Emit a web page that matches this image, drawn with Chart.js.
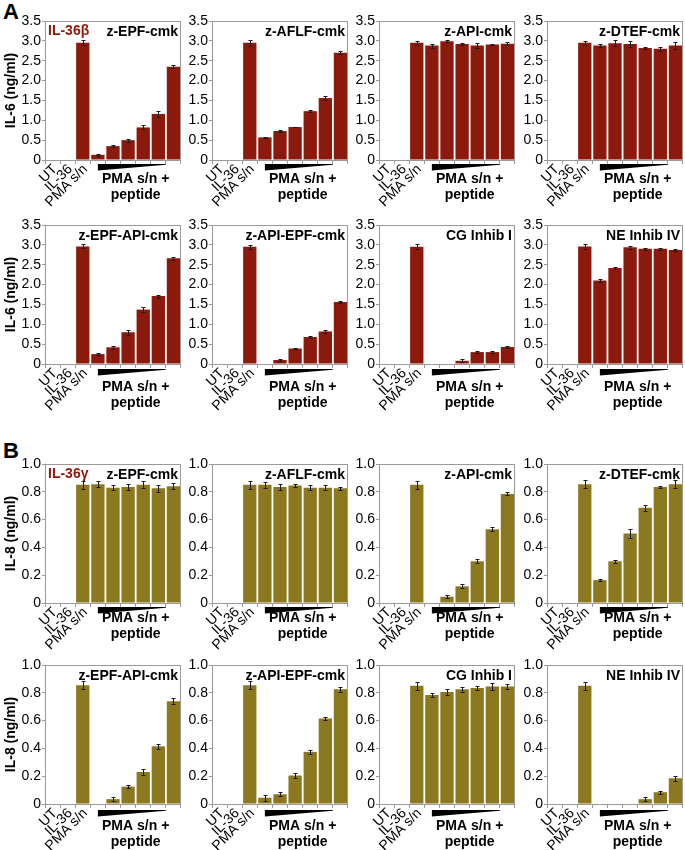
<!DOCTYPE html>
<html>
<head>
<meta charset="utf-8">
<script src="https://cdn.jsdelivr.net/npm/chart.js@4/dist/chart.umd.min.js"></script>
<style>
  body { margin: 0; background: #fff; }
  #fig { position: relative; width: 685px; height: 850px; overflow: hidden; }
  #fig canvas { position: absolute; }
  .panel-label { position: absolute; font: bold 22px "Liberation Sans", Arial, sans-serif; color: #000; }
</style>
</head>
<body>
<div id="fig">
  <div class="panel-label" style="left:3px;top:-1px">A</div>
  <div class="panel-label" style="left:3px;top:438px">B</div>
</div>
<script>
// categories: UT, IL-36, PMA s/n, then 6 decreasing peptide doses
const categories = ['UT', 'IL-36', 'PMA s/n', '', '', '', '', '', ''];
const il6Ticks = [0, 0.5, 1.0, 1.5, 2.0, 2.5, 3.0, 3.5];
const il8Ticks = [0, 0.2, 0.4, 0.6, 0.8, 1.0];

const titles = ['z-EPF-cmk', 'z-AFLF-cmk', 'z-API-cmk', 'z-DTEF-cmk',
                'z-EPF-API-cmk', 'z-API-EPF-cmk', 'CG Inhib I', 'NE Inhib IV'];

// A: IL-36beta, IL-6 (ng/ml)
const aEpf = [0, 0, 2.95, 0.13, 0.35, 0.50, 0.82, 1.16, 2.35];
const aEpfErr = [0, 0, 0.06, 0.02, 0.03, 0.04, 0.05, 0.08, 0.03];
const aAflf = [0, 0, 2.95, 0.57, 0.73, 0.83, 1.23, 1.56, 2.70];
const aAflfErr = [0, 0, 0.07, 0.01, 0.03, 0.01, 0.03, 0.04, 0.04];
const aApi = [0, 0, 2.95, 2.88, 2.99, 2.92, 2.88, 2.91, 2.93];
const aApiErr = [0, 0, 0.05, 0.05, 0.03, 0.03, 0.06, 0.02, 0.03];
const aDtef = [0, 0, 2.95, 2.88, 2.94, 2.92, 2.82, 2.80, 2.88];
const aDtefErr = [0, 0, 0.05, 0.03, 0.07, 0.08, 0.02, 0.05, 0.08];
const aEpfApi = [0, 0, 2.96, 0.25, 0.42, 0.80, 1.37, 1.71, 2.66];
const aEpfApiErr = [0, 0, 0.05, 0.03, 0.03, 0.06, 0.06, 0.04, 0.04];
const aApiEpf = [0, 0, 2.95, 0, 0.10, 0.39, 0.68, 0.82, 1.56];
const aApiEpfErr = [0, 0, 0.05, 0, 0.02, 0.02, 0.02, 0.03, 0.02];
const aCg = [0, 0, 2.95, 0, 0, 0.08, 0.30, 0.30, 0.43];
const aCgErr = [0, 0, 0.06, 0, 0, 0.04, 0.03, 0.03, 0.02];
const aNe = [0, 0, 2.96, 2.10, 2.42, 2.94, 2.90, 2.90, 2.87];
const aNeErr = [0, 0, 0.06, 0.03, 0.02, 0.04, 0.03, 0.03, 0.03];

// B: IL-36gamma, IL-8 (ng/ml)
const bEpf = [0, 0, 0.85, 0.855, 0.83, 0.835, 0.85, 0.825, 0.84];
const bEpfErr = [0, 0, 0.03, 0.02, 0.02, 0.02, 0.025, 0.025, 0.02];
const bAflf = [0, 0, 0.85, 0.85, 0.835, 0.845, 0.83, 0.83, 0.825];
const bAflfErr = [0, 0, 0.03, 0.02, 0.02, 0.01, 0.02, 0.02, 0.01];
const bApi = [0, 0, 0.85, 0, 0.045, 0.12, 0.30, 0.53, 0.785];
const bApiErr = [0, 0, 0.03, 0, 0.01, 0.015, 0.015, 0.015, 0.01];
const bDtef = [0, 0, 0.855, 0.165, 0.30, 0.50, 0.685, 0.835, 0.855];
const bDtefErr = [0, 0, 0.03, 0.01, 0.01, 0.03, 0.02, 0.01, 0.03];
const bEpfApi = [0, 0, 0.855, 0, 0.035, 0.125, 0.23, 0.415, 0.74];
const bEpfApiErr = [0, 0, 0.03, 0, 0.015, 0.01, 0.02, 0.02, 0.02];
const bApiEpf = [0, 0, 0.855, 0.045, 0.07, 0.205, 0.375, 0.615, 0.825];
const bApiEpfErr = [0, 0, 0.03, 0.02, 0.015, 0.02, 0.015, 0.01, 0.02];
const bCg = [0, 0, 0.85, 0.785, 0.805, 0.825, 0.835, 0.845, 0.845];
const bCgErr = [0, 0, 0.03, 0.015, 0.02, 0.02, 0.015, 0.025, 0.02];
const bNe = [0, 0, 0.85, 0, 0, 0, 0.035, 0.085, 0.185];
const bNeErr = [0, 0, 0.03, 0, 0, 0, 0.015, 0.01, 0.02];

const FONT = '"Liberation Sans", Arial, sans-serif';
const RED = '#8c1a0c';
const OLIVE = '#8b781f';
const FRAME = '#9a9a9a';

// plot-area placement (left edge of each column, top of each row)
const colX = [45, 212, 379, 547];
const rowY = [21, 225, 464, 665];
const rowText = [19, 23, 15, 22];   // "PMA s/n +" centre below axis
const rowWedge = [4, 5, 4, 6];
const PLOT_W = 136, PLOT_H = 139, PAD_TOP = 8, X_H = 46, Y_W = 45, PAD_BOT = 10;

const panelDecor = {
  id: 'panelDecor',
  afterDatasetsDraw(chart, args, o) {
    const { ctx, chartArea: a, scales: { x, y } } = chart;
    const ds = chart.data.datasets[0];
    const meta = chart.getDatasetMeta(0);
    ctx.save();

    // error bars
    ctx.strokeStyle = '#1a1a1a';
    ctx.lineWidth = 1;
    meta.data.forEach((bar, i) => {
      const e = ds.errors[i];
      if (!e) return;
      const v = ds.data[i];
      const cx = Math.round(bar.x) + 0.5;
      const y1 = Math.round(y.getPixelForValue(v + e)) + 0.5;
      const y2 = Math.round(y.getPixelForValue(v - e)) + 0.5;
      ctx.beginPath();
      ctx.moveTo(cx, y1); ctx.lineTo(cx, y2);
      ctx.moveTo(cx - 2, y1); ctx.lineTo(cx + 2, y1);
      ctx.moveTo(cx - 2, y2); ctx.lineTo(cx + 2, y2);
      ctx.stroke();
    });

    // frame
    ctx.strokeStyle = FRAME;
    ctx.strokeRect(Math.round(a.left) + 0.5, Math.round(a.top) + 0.5,
                   Math.round(a.width) - 1, Math.round(a.height));

    // rotated control labels
    ctx.fillStyle = '#000';
    ctx.font = '14px ' + FONT;
    ctx.textAlign = 'right';
    ctx.textBaseline = 'middle';
    chart.data.labels.forEach((lab, i) => {
      if (!lab) return;
      ctx.save();
      ctx.translate(x.getPixelForValue(i) + 2.5, a.bottom + 7);
      ctx.rotate(-Math.PI / 4);
      ctx.fillText(lab, 0, 0);
      ctx.restore();
    });

    // titles
    ctx.font = 'bold 14px ' + FONT;
    ctx.textBaseline = 'alphabetic';
    ctx.textAlign = 'right';
    ctx.fillText(o.title, a.right - 3, a.top + 15);
    if (o.species) {
      ctx.fillStyle = RED;
      ctx.textAlign = 'left';
      ctx.fillText(o.species, a.left + 3, a.top + 14);
    }

    // dose wedge + label
    const x1 = x.getPixelForValue(3);
    const x2 = (x.getPixelForValue(7) + x.getPixelForValue(8)) / 2;
    const wy = a.bottom + o.wedge;
    ctx.fillStyle = '#000';
    ctx.beginPath();
    ctx.moveTo(x1, wy);
    ctx.lineTo(x2, wy);
    ctx.lineTo(x2, wy + 0.8);
    ctx.lineTo(x1, wy + 6.5);
    ctx.closePath();
    ctx.fill();

    const tx = (x.getPixelForValue(3) + x.getPixelForValue(8)) / 2;
    ctx.textAlign = 'center';
    ctx.textBaseline = 'middle';
    ctx.fillText('PMA s/n +', tx, a.bottom + o.text);
    ctx.fillText('peptide', tx, a.bottom + o.text + 16);
    ctx.restore();
  }
};

function makePanel(col, row, values, errors, title, ticks, color, yTitle, species) {
  const canvas = document.createElement('canvas');
  canvas.width = Y_W + PLOT_W + 2;
  canvas.height = PAD_TOP + PLOT_H + X_H + PAD_BOT;
  canvas.style.left = (colX[col] - Y_W) + 'px';
  canvas.style.top = (rowY[row] - PAD_TOP) + 'px';
  document.getElementById('fig').appendChild(canvas);

  return new Chart(canvas.getContext('2d'), {
    type: 'bar',
    data: {
      labels: categories,
      datasets: [{
        data: values,
        errors: errors,
        backgroundColor: color,
        borderWidth: 0,
        barPercentage: 0.88,
        categoryPercentage: 1.0
      }]
    },
    options: {
      responsive: false,
      animation: false,
      events: [],
      layout: { padding: { top: PAD_TOP, right: 2, left: 0, bottom: PAD_BOT } },
      plugins: {
        legend: { display: false },
        tooltip: { enabled: false },
        panelDecor: {
          title: title, species: species,
          text: rowText[row], wedge: rowWedge[row]
        }
      },
      scales: {
        x: {
          grid: { display: true, drawOnChartArea: false, offset: true, tickLength: 4, color: FRAME },
          border: { display: false },
          ticks: { display: false },
          afterFit: s => { s.height = X_H; s.paddingLeft = 0; s.paddingRight = 0; }
        },
        y: {
          min: ticks[0],
          max: ticks[ticks.length - 1],
          afterBuildTicks: s => { s.ticks = ticks.map(v => ({ value: v })); },
          grid: { display: true, drawOnChartArea: false, tickLength: 3, color: FRAME },
          border: { display: false },
          ticks: {
            padding: 1, color: '#000', font: { family: FONT, size: 14 },
            callback: v => (v === 0 ? '0' : v.toFixed(1))
          },
          title: {
            display: !!yTitle, text: yTitle, color: '#000',
            font: { family: FONT, size: 14, weight: 'bold' },
            padding: { top: 3, bottom: 0 }
          },
          afterFit: s => { s.width = Y_W; s.paddingTop = 0; s.paddingBottom = 0; }
        }
      }
    },
    plugins: [panelDecor]
  });
}

const seriesA = [[aEpf, aEpfErr], [aAflf, aAflfErr], [aApi, aApiErr], [aDtef, aDtefErr],
                 [aEpfApi, aEpfApiErr], [aApiEpf, aApiEpfErr], [aCg, aCgErr], [aNe, aNeErr]];
const seriesB = [[bEpf, bEpfErr], [bAflf, bAflfErr], [bApi, bApiErr], [bDtef, bDtefErr],
                 [bEpfApi, bEpfApiErr], [bApiEpf, bApiEpfErr], [bCg, bCgErr], [bNe, bNeErr]];

seriesA.forEach(([vals, errs], i) => {
  const col = i % 4, row = Math.floor(i / 4);
  makePanel(col, row, vals, errs, titles[i], il6Ticks, RED,
            col === 0 ? 'IL-6 (ng/ml)' : '', i === 0 ? 'IL-36\u03b2' : '');
});
seriesB.forEach(([vals, errs], i) => {
  const col = i % 4, row = 2 + Math.floor(i / 4);
  makePanel(col, row, vals, errs, titles[i], il8Ticks, OLIVE,
            col === 0 ? 'IL-8 (ng/ml)' : '', i === 0 ? 'IL-36\u03b3' : '');
});
</script>
</body>
</html>
